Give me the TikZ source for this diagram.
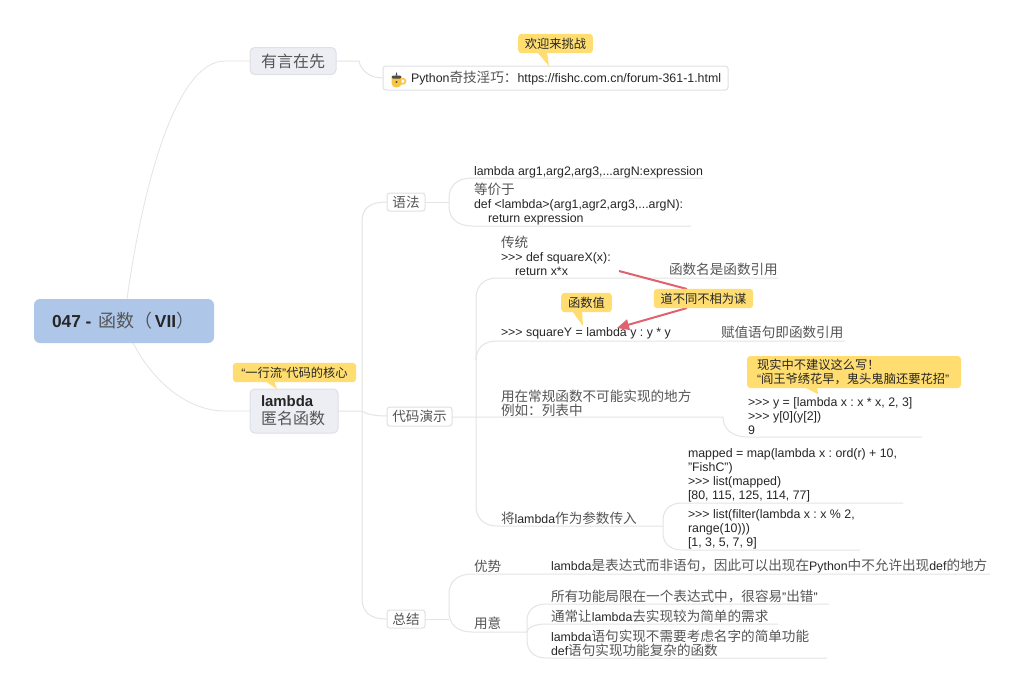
\documentclass[tikz,border=0pt]{standalone}
\usepackage{fontspec}
\setmainfont{Liberation Sans}
\newfontfamily\cjkfont{Noto Sans CJK SC}
\usetikzlibrary{arrows.meta}
\definecolor{linkc}{HTML}{E4E4E6}
\definecolor{rootc}{HTML}{AEC6E8}
\definecolor{mainc}{HTML}{ECEEF4}
\definecolor{borderc}{HTML}{DEE0E6}
\definecolor{notec}{HTML}{FFDD70}
\definecolor{txtc}{HTML}{262626}
\definecolor{cjkc}{HTML}{555555}
\definecolor{redc}{HTML}{E0626E}
\definecolor{cupc}{HTML}{F6C544}
\frenchspacing
\newcommand{\C}[1]{{\cjkfont\color{cjkc}\fontsize{10.2}{10.4}\selectfont #1}}
\newcommand{\Cb}[1]{{\cjkfont\color{cjkc}\fontsize{12}{13.5}\selectfont #1}}
\newcommand{\Cn}[1]{{\cjkfont\color{txtc}\fontsize{9.2}{11}\selectfont #1}}
\newcommand{\PP}{{>}{>}{>}}
\tikzset{
  x=0.75pt,y=-0.75pt,
  link/.style={draw=linkc,line width=0.75pt},
  thin link/.style={draw=linkc,line width=0.6pt},
  txt/.style={anchor=west,inner sep=0pt,outer sep=0pt,align=left,text=txtc,font=\fontsize{9.28}{10.5}\selectfont},
  rootbox/.style={draw=none,fill=rootc,rounded corners=4.5pt},
  mainbox/.style={draw=borderc,line width=0.75pt,fill=mainc,rounded corners=3.5pt},
  subbox/.style={draw=borderc,line width=0.75pt,fill=white,rounded corners=2pt},
  notebox/.style={fill=notec,rounded corners=2.5pt},
  redline/.style={draw=redc,line width=1.5pt},
}
\begin{document}
\begin{tikzpicture}
\useasboundingbox (0,0) rectangle (1024,693);
\fill[white] (0,0) rectangle (1024,693);
% ---- connectors
\draw[thin link] (127,299) .. controls (142,190) and (175,61) .. (225,61) -- (250,61);
\draw[thin link] (133,343) .. controls (155,385) and (190,411) .. (225,411) -- (250,411);
\draw[link] (336,61) -- (359,61) .. controls (361,71) and (370,78) .. (383,78);
% lambda trunk
\draw[link] (387,202) .. controls (370,202) and (362,208) .. (362,222) -- (362,598) .. controls (362,612) and (370,619) .. (387,619);
\draw[link] (338,411) -- (362,411) .. controls (366,414) and (374,416) .. (387,416);
% syntax
\draw[link] (425,202) -- (449,202);
\draw[link] (703,178) -- (472,178) .. controls (457,178) and (449,186) .. (449,198) -- (449,206) .. controls (449,218) and (457,226) .. (472,226) -- (691,226);
% demo
\draw[link] (452,417) -- (723,417) .. controls (723,428) and (731,437) .. (748,437) -- (922,437);
\draw[link] (778,278) -- (497,278) .. controls (484,278) and (476,286) .. (476,298) -- (476,506) .. controls (476,518) and (484,526) .. (497,526) -- (663,526);
\draw[link] (845,341) -- (497,341) .. controls (484,341) and (476,348) .. (476,360);
\draw[link] (903,503) -- (682,503) .. controls (670,503) and (663,510) .. (663,520) -- (663,533) .. controls (663,543) and (670,550) .. (682,550) -- (860,550);
% summary
\draw[link] (425,619) -- (449,619);
\draw[link] (990,574) -- (472,574) .. controls (457,574) and (449,582) .. (449,594) -- (449,612) .. controls (449,624) and (457,632) .. (472,632) -- (527,632);
\draw[link] (829,604) -- (546,604) .. controls (534,604) and (527,611) .. (527,620) -- (527,632);
\draw[link] (778,624) -- (546,624) .. controls (534,624) and (527,628) .. (527,632) -- (527,640) .. controls (527,651) and (534,658) .. (546,658) -- (827,658);
% ---- boxes
\node[rootbox,minimum width=135pt,minimum height=33pt,inner sep=0pt] (root) at (124,321) {};
\node[txt,font=\bfseries\fontsize{13}{15}\selectfont] (rootT) at (52,320.5) {047 -\hspace{1.5pt} {\cjkfont\mdseries\color{cjkc}\fontsize{13.5}{15}\selectfont 函数（}\hspace{2pt}VII{\cjkfont\mdseries\color{cjkc}\fontsize{13.5}{15}\selectfont ）}};
\node[mainbox,minimum width=64.5pt,minimum height=20.25pt,inner sep=0pt] (first) at (293,61) {\Cb{有言在先}};
\node[mainbox,minimum width=66pt,minimum height=33pt,inner sep=0pt] (lam) at (294,411) {};
\node[txt,font=\fontsize{11.2}{13.5}\selectfont] (lamT) at (261,410.5) {\textbf{lambda}\\\Cb{匿名函数}};
\node[subbox,minimum width=258.75pt,minimum height=18pt,inner sep=0pt] (py) at (555.5,78) {};
\node[txt] (pyT) at (411,78.5) {Python\C{奇技淫巧：}https://fishc.com.cn/forum-361-1.html};
\node[subbox,minimum width=28.5pt,minimum height=13.5pt,inner sep=0pt] (syn) at (406,202) {\C{语法}};
\node[subbox,minimum width=48.75pt,minimum height=14.25pt,inner sep=0pt] (demo) at (419.5,416.5) {\C{代码演示}};
\node[subbox,minimum width=28.5pt,minimum height=13.5pt,inner sep=0pt] (sum) at (406,619) {\C{总结}};
% icon
\fill[cupc] (391.5,78) -- (401.5,78) -- (401.5,83) .. controls (401.5,86) and (399.5,87.5) .. (396.5,87.5) .. controls (393.5,87.5) and (391.5,86) .. (391.5,83) -- cycle;
\draw[cupc,line width=1.2pt] (401.5,78.5) .. controls (407,78) and (407,84.5) .. (401,84);
\fill[black!70,rounded corners=1pt] (391.5,75.5) rectangle (401.5,78.5);
\fill[black!70] (395.5,75.5) -- (396.5,72) -- (397.5,75.5) -- cycle;
\fill[black!70] (396.5,82) circle (1.1);
% ---- texts
\node[txt] (t1) at (474,172) {lambda arg1,arg2,arg3,...argN:expression};
\node[txt] (t2) at (474,204) {\C{等价于}\\def <lambda>(arg1,agr2,arg3,...argN):\\\hspace*{10.5pt}return expression};
\node[txt] (t3) at (501,256) {\C{传统}\\\PP{} def squareX(x):\\\hspace*{10.5pt}return x*x};
\node[txt] (t4) at (669,269.5) {\C{函数名是函数引用}};
\node[txt] (t5) at (501,333.5) {\PP{} squareY = lambda y : y * y};
\node[txt] (t6) at (721,332.5) {\C{赋值语句即函数引用}};
\node[txt] (t7) at (501,403) {\C{用在常规函数不可能实现的地方}\\\C{例如：列表中}};
\node[txt] (t8) at (748,416) {\PP{} y = [lambda x : x * x, 2, 3]\\\PP{} y[0](y[2])\\9};
\node[txt] (t9) at (688,475) {mapped = map(lambda x : ord(r) + 10,\\"FishC")\\\PP{} list(mapped)\\{[}80, 115, 125, 114, 77]};
\node[txt] (t10) at (501,518) {\C{将}lambda\C{作为参数传入}};
\node[txt] (t11) at (688,529) {\PP{} list(filter(lambda x : x \% 2,\\range(10)))\\{[}1, 3, 5, 7, 9]};
\node[txt] (t12) at (474,566) {\C{优势}};
\node[txt] (t13) at (551,566) {lambda\C{是表达式而非语句，因此可以出现在}Python\C{中不允许出现}def\C{的地方}};
\node[txt] (t14) at (551,596) {\C{所有功能局限在一个表达式中，很容易}"\C{出错}"};
\node[txt] (t15) at (551,616) {\C{通常让}lambda\C{去实现较为简单的需求}};
\node[txt] (t16) at (474,623) {\C{用意}};
\node[txt] (t17) at (551,643) {lambda\C{语句实现不需要考虑名字的简单功能}\\def\C{语句实现功能复杂的函数}};
% ---- red connectors
\coordinate (rA) at (619,271);
\coordinate (rB) at (617,328);
\coordinate (rC) at (687,289);
\coordinate (rD) at (687,308);
\draw[redline] (rA) -- (rC);
\draw[redline,-{Triangle[length=9pt,width=8pt]}] (rD) -- (rB);
\node[notebox,minimum width=74.5pt,minimum height=14.5pt,inner sep=0pt] (nt4) at (703.5,298.5) {\Cn{道不同不相为谋}};
% ---- callouts
\fill[notec] (537,52) -- (549,66) -- (547,52) -- cycle;
\node[notebox,minimum width=56pt,minimum height=14.5pt,inner sep=0pt] (nt1) at (555.5,43.5) {\Cn{欢迎来挑战}};
\fill[notec] (265,381) -- (277,389) -- (274,381) -- cycle;
\node[notebox,minimum width=92.5pt,minimum height=14.5pt,inner sep=0pt] (nt2) at (294.5,372.5) {\textcolor{txtc}{\fontsize{9.2}{11}\selectfont\textquotedblleft}\Cn{一行流}\textcolor{txtc}{\fontsize{9.2}{11}\selectfont"}\Cn{代码的核心}};
\fill[notec] (572,311) -- (583,326) -- (582,311) -- cycle;
\node[notebox,minimum width=38pt,minimum height=14.5pt,inner sep=0pt] (nt3) at (586.5,302.5) {\Cn{函数值}};
\fill[notec] (804,387) -- (818,394) -- (817,387) -- cycle;
\node[notebox,minimum width=160.5pt,minimum height=24pt,inner sep=0pt] (nt5) at (854,372) {};
\node[txt,font=\fontsize{9.2}{11}\selectfont] (nt5T) at (757,372) {\Cn{现实中不建议这么写！}\\\textquotedblleft\Cn{阎王爷绣花早，鬼头鬼脑还要花招}"};
\end{tikzpicture}
\end{document}
